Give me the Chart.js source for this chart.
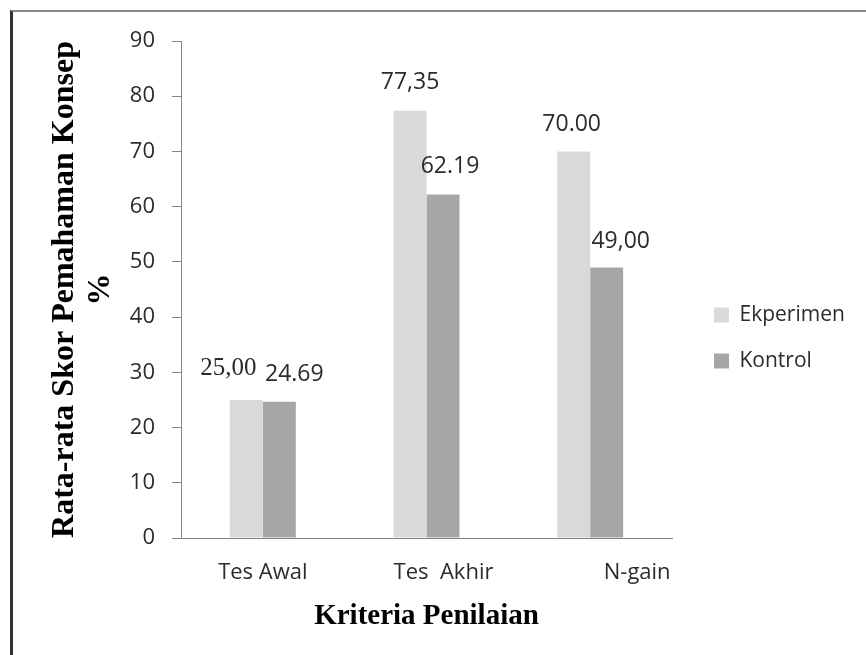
<!DOCTYPE html>
<html>
<head>
<meta charset="utf-8">
<script src="https://cdn.jsdelivr.net/npm/chart.js@4.4.1/dist/chart.umd.min.js"></script>
<style>
  html, body { margin: 0; padding: 0; background: #ffffff; width: 866px; height: 655px; overflow: hidden; }
  #frame { position: absolute; left: 10px; top: 10px; width: 900px; height: 700px;
           border-left: 3px solid #333333; border-top: 2px solid #8a8a8a; box-sizing: border-box; }
  #wrap { position: absolute; left: 0; top: 0; width: 866px; height: 655px; }
</style>
</head>
<body>
<div id="frame"></div>
<div id="wrap"><canvas id="c" width="866" height="655"></canvas></div>
<script>
// ---------- data ----------
const categories = ['Tes Awal', 'Tes  Akhir', 'N-gain'];
const seriesNames = ['Ekperimen', 'Kontrol'];
const ekperimenValues = [25.00, 77.35, 70.00];
const kontrolValues = [24.69, 62.19, 49.00];
const ekperimenLabels = ['25,00', '77,35', '70.00'];
const kontrolLabels = ['24.69', '62.19', '49,00'];
const yMin = 0, yMax = 90, yStep = 10;
const yTitle = ['Rata-rata Skor Pemahaman Konsep', '%'];
const xTitle = 'Kriteria Penilaian';

// ---------- styling / layout ----------
const SANS = '"Open Sans", "DejaVu Sans", sans-serif';
const SERIF = '"Liberation Serif", "Times New Roman", serif';
const TEXT = '#2b2b2b';
const AXIS = '#868686';
const COLORS = ['#d9d9d9', '#a6a6a6'];
const valueLabels = [ekperimenLabels, kontrolLabels];
// label offsets (px) relative to bar top centre
const labelOffsets = [[[-18, -32], [0, -28], [-2, -27]], [[15, -27], [7, -28], [14, -26]]];
const labelSerif = [[true, false, false], [false, false, false]];
const catShift = [0, 17, 47];
const TARGET_RIGHT = 672;

const valueLabelPlugin = {
  id: 'valueLabels',
  afterDatasetsDraw(chart) {
    const ctx = chart.ctx;
    chart.data.datasets.forEach((ds, i) => {
      const meta = chart.getDatasetMeta(i);
      meta.data.forEach((bar, j) => {
        const off = labelOffsets[i][j];
        ctx.save();
        ctx.font = labelSerif[i][j] ? '25px ' + SERIF : '23px ' + SANS;
        ctx.fillStyle = TEXT;
        ctx.textAlign = 'center';
        ctx.textBaseline = 'middle';
        ctx.fillText(valueLabels[i][j], bar.x + off[0], bar.y + off[1]);
        ctx.restore();
      });
    });
  }
};

const categoryLabelPlugin = {
  id: 'categoryLabels',
  afterDraw(chart) {
    const ctx = chart.ctx;
    const xs = chart.scales.x;
    ctx.save();
    ctx.font = '22px ' + SANS;
    ctx.fillStyle = TEXT;
    ctx.textAlign = 'center';
    ctx.textBaseline = 'middle';
    categories.forEach((c, i) => {
      ctx.fillText(c, xs.getPixelForValue(i) + catShift[i], xs.top + 35);
    });
    ctx.restore();
  }
};

const chart = new Chart(document.getElementById('c'), {
  type: 'bar',
  data: {
    labels: categories,
    datasets: [
      { label: seriesNames[0], data: ekperimenValues, backgroundColor: COLORS[0], borderWidth: 0,
        barPercentage: 1, categoryPercentage: 0.403 },
      { label: seriesNames[1], data: kontrolValues, backgroundColor: COLORS[1], borderWidth: 0,
        barPercentage: 1, categoryPercentage: 0.403 }
    ]
  },
  options: {
    responsive: false,
    animation: false,
    devicePixelRatio: 1,
    layout: { padding: { top: 41, bottom: 20, left: 0, right: 0 } },
    plugins: {
      tooltip: { enabled: false },
      title: { display: false },
      legend: {
        display: true,
        position: 'right',
        align: 'center',
        maxWidth: 400,
        labels: {
          boxWidth: 15, boxHeight: 15, padding: 25,
          color: TEXT,
          font: { family: SANS, size: 21 }
        }
      }
    },
    scales: {
      x: {
        type: 'category',
        position: 'bottom',
        grid: { display: false },
        border: { display: true, color: AXIS, width: 1 },
        ticks: { display: false },
        title: {
          display: true, text: xTitle, color: '#000000',
          font: { family: SERIF, size: 29, weight: 'bold', lineHeight: 1.2 },
          padding: { top: 0, bottom: 1 }
        },
        afterFit(s) { s.height = 97; }
      },
      y: {
        type: 'linear',
        position: 'left',
        min: yMin, max: yMax,
        grid: { display: true, drawOnChartArea: false, drawTicks: true, tickLength: 9, color: AXIS },
        border: { display: true, color: AXIS, width: 1 },
        ticks: { stepSize: yStep, padding: 17, color: TEXT, font: { family: SANS, size: 22 } },
        title: {
          display: true, text: yTitle, color: '#000000',
          font: { family: SERIF, size: 32, weight: 'bold', lineHeight: 1.15 },
          padding: { top: 46, bottom: 0 }
        },
        afterFit(s) { s.width = 181; }
      },
      spacer: {
        type: 'linear',
        position: 'right',
        display: true,
        grid: { display: false },
        border: { display: false },
        ticks: { display: false },
        title: { display: false },
        afterFit(s) { s.width = 17; }
      }
    }
  },
  plugins: [valueLabelPlugin, categoryLabelPlugin]
});

// adjust right padding so the plot area ends where the reference's does
let padR = 0;
for (let k = 0; k < 4; k++) {
  const diff = chart.chartArea.right - TARGET_RIGHT;
  if (Math.abs(diff) < 0.5) break;
  padR = Math.max(0, padR + diff);
  chart.options.layout.padding = { top: 41, bottom: 20, left: 0, right: padR };
  chart.update('none');
}
</script>
</body>
</html>
